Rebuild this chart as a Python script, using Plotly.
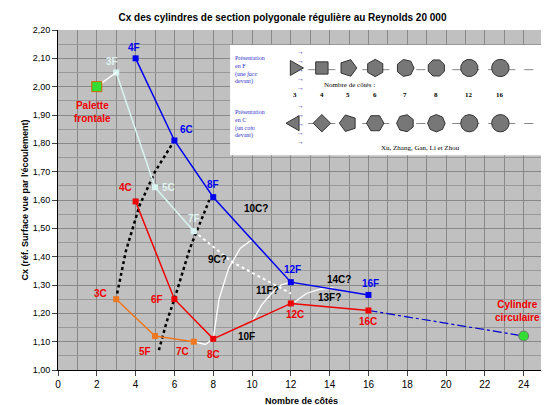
import plotly.graph_objects as go
import math

# Data
blue_x = [4, 6, 8, 12, 16]; blue_y = [2.10, 1.81, 1.61, 1.31, 1.265]
cyan_x = [2, 3, 5, 7]; cyan_y = [2.00, 2.05, 1.645, 1.49]
cyan_dot_x = [7, 9, 12]; cyan_dot_y = [1.49, 1.38, 1.27]
red_x = [4, 6, 8, 12, 16]; red_y = [1.595, 1.25, 1.11, 1.235, 1.21]
orange_x = [3, 5, 7]; orange_y = [1.25, 1.12, 1.10]
circ_x = [16, 24]; circ_y = [1.21, 1.12]
blk1_x = [3.05, 3.5, 4.2, 5.0, 6.0]; blk1_y = [1.27, 1.42, 1.58, 1.70, 1.81]
blk2_x = [5.2, 5.6, 6.0, 6.8, 7.8]; blk2_y = [1.07, 1.17, 1.25, 1.43, 1.60]
w9_x = [8, 8.3, 8.8, 9.4, 10]; w9_y = [1.11, 1.25, 1.36, 1.43, 1.46]
w11_x = [10, 10.5, 11, 11.5, 12]; w11_y = [1.17, 1.23, 1.27, 1.30, 1.31]
w13_x = [12.2, 12.8, 13.5, 14.2]; w13_y = [1.24, 1.27, 1.285, 1.29]
w7_x = [7, 7.6, 8]; w7_y = [1.10, 1.09, 1.11]

fig = go.Figure()
def line(x, y, color, dash="solid", width=1.5, mode="lines", msize=6, msym="square"):
    fig.add_trace(go.Scatter(x=x, y=y, mode=mode, line=dict(color=color, dash=dash, width=width),
                             marker=dict(color=color, size=msize, symbol=msym), showlegend=False, hoverinfo="skip"))

line(blk1_x, blk1_y, "black", "dot", 2.5)
line(blk2_x, blk2_y, "black", "dot", 2.5)
line(cyan_dot_x, cyan_dot_y, "white", "dot", 2)
line(w9_x, w9_y, "white", width=1.3); line(w11_x, w11_y, "white", width=1.3)
line(w13_x, w13_y, "white", width=1.3); line(w7_x, w7_y, "white", width=1.3)
line(circ_x, circ_y, "#0000cc", "dashdot", 1.2)
line(blue_x, blue_y, "#0000ee", mode="lines+markers")
line(cyan_x[1:], cyan_y[1:], "#d8f4f0", mode="lines+markers")
line(cyan_x[:2], cyan_y[:2], "white")
line(red_x, red_y, "#ee0000", mode="lines+markers")
line(orange_x, orange_y, "#ee7722", mode="lines+markers")
fig.add_trace(go.Scatter(x=[2], y=[2.00], mode="markers", marker=dict(color="#33dd33", size=10, symbol="square", line=dict(color="#cc6600", width=1)), showlegend=False))
fig.add_trace(go.Scatter(x=[24], y=[1.12], mode="markers", marker=dict(color="#33dd33", size=10, line=dict(color="#777", width=1)), showlegend=False))

labels = [
    ("3F", 2.8, 2.09, "#e0f4f0"), ("4F", 3.9, 2.14, "#0000ee"), ("Palette<br>frontale", 1.8, 1.91, "#ee0000"),
    ("6C", 6.6, 1.85, "#0000ee"), ("5C", 5.7, 1.645, "#e0f4f0"), ("4C", 3.5, 1.645, "#ee0000"),
    ("8F", 8.0, 1.655, "#0000ee"), ("7F", 7.0, 1.535, "#e0f4f0"), ("10C?", 10.2, 1.57, "black"),
    ("9C?", 8.2, 1.39, "black"), ("12F", 12.1, 1.355, "#0000ee"), ("14C?", 14.5, 1.32, "black"),
    ("16F", 16.1, 1.305, "#0000ee"), ("11F?", 10.8, 1.28, "black"), ("13F?", 14.0, 1.255, "black"),
    ("3C", 2.2, 1.27, "#ee0000"), ("6F", 5.1, 1.25, "#ee0000"), ("12C", 12.2, 1.195, "#ee0000"),
    ("16C", 16.0, 1.17, "#ee0000"), ("10F", 9.7, 1.12, "black"), ("5F", 4.5, 1.065, "#ee0000"),
    ("7C", 6.4, 1.065, "#ee0000"), ("8C", 8.0, 1.055, "#ee0000"), ("Cylindre<br>circulaire", 23.7, 1.21, "#ee0000"),
]
for t, x, y, c in labels:
    fig.add_annotation(x=x, y=y, text="<b>%s</b>" % t, showarrow=False, font=dict(color=c, size=10, family="Arial"))

# Inset
fig.add_shape(type="rect", x0=8.87, x1=25.0, y0=1.758, y1=2.147, fillcolor="white", line=dict(width=0))
for yrow, txt in [(2.06, "Présentation<br>en F<br>(une <i>face</i><br>devant)"), (1.87, "Présentation<br>en C<br>(un <i>coin</i><br>devant)")]:
    fig.add_annotation(x=9.0, y=yrow, text=txt, showarrow=False, xanchor="left", align="left",
                       font=dict(color="#3333cc", size=6, family="Times New Roman"))
    fig.add_annotation(x=12.5, y=yrow, text="→<br>→<br>→<br>→<br>→", showarrow=False,
                       font=dict(color="#3333cc", size=7))
    fig.add_shape(type="line", x0=12.9, x1=24.8, y0=yrow, y1=yrow, line=dict(color="#888", dash="dash", width=1))
sides = [3, 4, 5, 6, 7, 8, 12, 16]
cxs = [12.2, 13.6, 14.95, 16.35, 17.9, 19.5, 21.2, 22.8]
rx, ry = 0.5, 0.034
for n, cx in zip(sides, cxs):
    for row, yc in [("F", 2.066), ("C", 1.871)]:
        if row == "C": off = math.pi
        else: off = 0 if n % 2 else math.pi / n
        pts = [(cx + 0.9 * rx * math.cos(off + 2 * math.pi * k / n), yc + 0.9 * ry * math.sin(off + 2 * math.pi * k / n)) for k in range(n)]
        path = "M " + " L ".join("%f,%f" % p for p in pts) + " Z"
        fig.add_shape(type="path", path=path, fillcolor="#777777", line=dict(color="#333", width=1))
    fig.add_annotation(x=cx, y=1.97, text="<b>%d</b>" % n, showarrow=False, font=dict(size=7, family="Times New Roman", color="black"))
fig.add_annotation(x=15.0, y=2.005, text="Nombre de côtés :", showarrow=False, font=dict(size=7, family="Times New Roman", color="black"))
fig.add_annotation(x=18.7, y=1.785, text="Xu, Zhang, Gan, Li et Zhou", showarrow=False, font=dict(size=7, family="Times New Roman", color="black"))

fig.update_layout(
    width=549, height=405, margin=dict(l=50, r=12, t=22, b=43, autoexpand=False),
    paper_bgcolor="white", plot_bgcolor="#c0c0c0",
    title=dict(text="<b>Cx des cylindres de section polygonale régulière au Reynolds 20 000</b>", x=0.5, y=0.985, yanchor="top", font=dict(size=10, family="Arial", color="black"), automargin=False),
    font=dict(family="Arial", color="black"),
    separators=", ",
)
fig.update_xaxes(range=[0, 25.1], tick0=0, dtick=2, showgrid=True, gridcolor="#888", gridwidth=1, automargin=False,
                 minor=dict(dtick=1, showgrid=True, gridcolor="#888"),
                 showline=True, linecolor="black", ticks="outside", tickfont=dict(size=10, family="Arial"),
                 title=dict(text="<b>Nombre de côtés</b>", font=dict(size=9), standoff=8), zeroline=False)
fig.update_yaxes(range=[1.0, 2.2], dtick=0.1, tickformat=".2f", automargin=False,
                 showgrid=True, gridcolor="#888", minor=dict(dtick=0.05, showgrid=True, gridcolor="#999"),
                 showline=True, linecolor="black", ticks="outside", tickfont=dict(size=9, family="Arial"),
                 title=dict(text="<b>Cx (réf. Surface vue par l'écoulement)</b>", font=dict(size=9), standoff=2), zeroline=False)
fig.write_html("out.html")
